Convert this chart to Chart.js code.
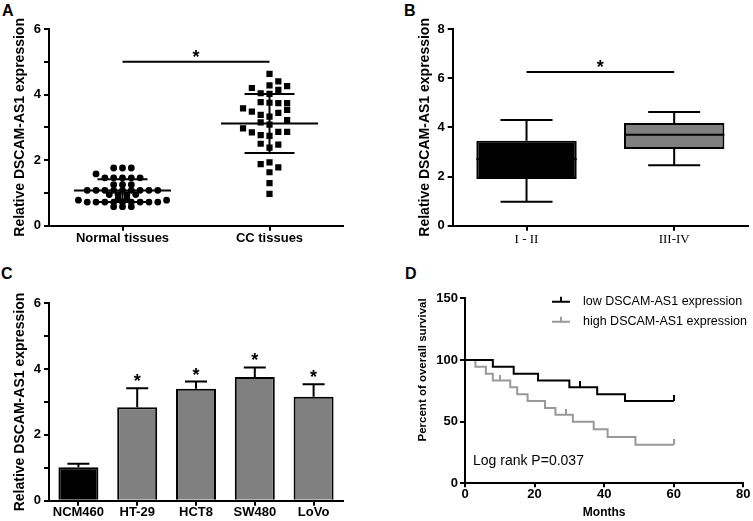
<!DOCTYPE html>
<html>
<head>
<meta charset="utf-8">
<script src="https://cdn.jsdelivr.net/npm/chart.js@4.4.0/dist/chart.umd.min.js"></script>
<style>
body { margin: 0; background: #fff; width: 753px; height: 521px; position: relative; overflow: hidden; font-family: "Liberation Sans", Arial, sans-serif; }
canvas { position: absolute; }
.panel { position: absolute; font-weight: bold; font-size: 16px; line-height: 16px; color: #000; }
</style>
</head>
<body>
<div class="panel" style="left:2px;top:3px">A</div>
<div class="panel" style="left:404px;top:3px">B</div>
<div class="panel" style="left:1px;top:266px">C</div>
<div class="panel" style="left:405px;top:266px">D</div>
<canvas id="chartA" width="370" height="250" style="left:0;top:0"></canvas>
<canvas id="chartB" width="383" height="250" style="left:370px;top:0"></canvas>
<canvas id="chartC" width="370" height="266" style="left:0;top:255px"></canvas>
<canvas id="chartD" width="383" height="266" style="left:370px;top:255px"></canvas>
<script>
// ---- data ----
var yTitle = 'Relative DSCAM-AS1 expression';

// A: dot plot, slot = position in the swarm row
var groupsA = ['Normal tissues', 'CC tissues'];
var normalSlot = [-1, 0, 1, -3, -2, -1, 0, 1, 2, -1, 0, 1, -4, -3, -2, -1, 0, 1, 2, 3, 4,
                  -1.5, -0.5, 0.5, 1.5, -0.5, 0.5, -5, 5, -4, -3, -2, -1, 0, 1, 2, 3, 4, -1, 0, 1];
var normalVal = [1.76, 1.76, 1.76, 1.58, 1.46, 1.46, 1.46, 1.46, 1.46, 1.25, 1.25, 1.25,
                 1.08, 1.08, 1.08, 1.08, 1.08, 1.08, 1.08, 1.08, 1.08,
                 0.95, 0.95, 0.95, 0.95, 0.82, 0.82, 0.78, 0.78,
                 0.72, 0.72, 0.72, 0.72, 0.72, 0.72, 0.72, 0.72, 0.72, 0.58, 0.58, 0.58];
var ccSlot = [0, 1, 0, 2, -2, 1, -1, 0, -1, 0, 1, 2, -3, 2, -2, 1, -1, 0, 2, -1, 0,
              -3, -2, 1, 2, -1, 0, -1, 1, 0, -1, 0, 1, 0, 0, 0];
var ccVal = [4.63, 4.40, 4.28, 4.26, 4.20, 4.14, 4.04, 4.02, 3.77, 3.75, 3.74, 3.74, 3.58, 3.53,
             3.48, 3.44, 3.38, 3.33, 3.22, 3.15, 3.08, 2.97, 2.85, 2.86, 2.86, 2.76, 2.74,
             2.50, 2.47, 2.38, 1.88, 1.93, 1.78, 1.63, 1.30, 0.97];
var meanA = [1.07, 3.12];
var sdA = [0.35, 0.90];

// B: box plot
var stagesB = ['I - II', 'III-IV'];
var minB = [0.97, 2.46];
var q1B = [1.90, 3.12];
var medB = [2.70, 3.70];
var q3B = [3.45, 4.18];
var maxB = [4.30, 4.62];

// C: cell lines
var linesC = ['NCM460', 'HT-29', 'HCT8', 'SW480', 'LoVo'];
var meanC = [1.02, 2.84, 3.40, 3.76, 3.16];
var errC = [0.10, 0.58, 0.22, 0.29, 0.38];
var starC = ['', '*', '*', '*', '*'];

// D: survival
var lowMonths = [0, 8, 14, 21, 30, 38, 46, 60];
var lowSurv = [100, 94.4, 88.9, 83.3, 77.8, 72.2, 66.7, 66.7];
var lowCensMonths = [33, 60];
var lowCensSurv = [77.8, 66.7];
var highMonths = [0, 3, 6, 8, 13, 15, 18, 23, 26, 31, 37, 41, 49, 60];
var highSurv = [100, 94.4, 88.9, 83.3, 77.8, 72.2, 66.7, 61.1, 55.6, 50, 43.8, 37.5, 31.3, 31.3];
var highCensMonths = [10, 29, 60];
var highCensSurv = [83.3, 55.6, 31.3];
var legendD = ['low DSCAM-AS1 expression', 'high DSCAM-AS1 expression'];
var pText = 'Log rank P=0.037';

// ---- helpers ----
Chart.defaults.font.family = '"Liberation Sans", Arial, sans-serif';
Chart.defaults.color = '#000';

var SANS = '"Liberation Sans", Arial, sans-serif';

function yAxis(min, max, step, width, titlePad, minor) {
    return {
        min: min, max: max,
        border: { color: '#000', width: 2 },
        grid: { drawOnChartArea: false, color: '#000', lineWidth: 2, tickLength: 5 },
        ticks: {
            stepSize: step, padding: 3, font: { size: 13, weight: 'bold' },
            callback: function (v) { return minor && v % (step * 2) !== 0 ? '' : v; }
        },
        title: { display: !!titlePad, text: yTitle, font: { size: 14, weight: 'bold' }, padding: { top: titlePad || 0, bottom: 0 } },
        afterFit: function (s) { s.width = width; }
    };
}

function xCat(height, font, padding) {
    return {
        border: { color: '#000', width: 2 },
        grid: { drawOnChartArea: false, offset: false, color: '#000', lineWidth: 2, tickLength: 5 },
        ticks: { font: font, padding: padding, maxRotation: 0 },
        afterFit: function (s) { s.height = height; }
    };
}

function drawStar(ctx, x, yBase) {
    ctx.font = 'bold 18px ' + SANS;
    ctx.textAlign = 'center';
    ctx.textBaseline = 'alphabetic';
    ctx.fillText('*', x, yBase);
}

function sigPlugin(from, to, level) {
    return {
        id: 'sig',
        afterDatasetsDraw: function (chart) {
            var ctx = chart.ctx, x = chart.scales.x, y = chart.scales.y;
            var yy = y.getPixelForValue(level);
            var x1 = x.getPixelForValue(from), x2 = x.getPixelForValue(to);
            ctx.save();
            ctx.strokeStyle = '#000';
            ctx.fillStyle = '#000';
            ctx.lineWidth = 2;
            ctx.beginPath();
            ctx.moveTo(x1, yy);
            ctx.lineTo(x2, yy);
            ctx.stroke();
            drawStar(ctx, (x1 + x2) / 2, yy + 1);
            ctx.restore();
        }
    };
}

var base = {
    responsive: false, animation: false, devicePixelRatio: 1,
    plugins: { legend: { display: false }, tooltip: { enabled: false } }
};
function opts(extra) { return Object.assign({}, base, extra); }

// ---- A ----
var SLOT = 0.06;
var summaryA = [];
groupsA.forEach(function (g, i) {
    var m = meanA[i], s = sdA[i];
    [[i - 0.33, i + 0.33, m, m], [i - 0.17, i + 0.17, m + s, m + s],
     [i - 0.17, i + 0.17, m - s, m - s], [i, i, m - s, m + s]].forEach(function (seg) {
        summaryA.push({
            data: [{ x: seg[0], y: seg[2] }, { x: seg[1], y: seg[3] }],
            showLine: true, borderColor: '#000', borderWidth: 2, pointRadius: 0
        });
    });
});

new Chart(document.getElementById('chartA'), {
    type: 'scatter',
    data: {
        datasets: summaryA.concat([
            { data: normalVal.map(function (v, j) { return { x: normalSlot[j] * SLOT, y: v }; }),
              pointStyle: 'circle', pointRadius: 3.4, backgroundColor: '#000', borderWidth: 0 },
            { data: ccVal.map(function (v, j) { return { x: 1 + ccSlot[j] * SLOT, y: v }; }),
              pointStyle: 'rect', pointRadius: 4.4, backgroundColor: '#000', borderWidth: 0 }
        ])
    },
    options: opts({
        layout: { padding: { top: 29, right: 27, left: 0, bottom: 0 } },
        scales: {
            x: {
                type: 'linear', min: -0.5, max: 1.5,
                border: { color: '#000', width: 2 },
                grid: { drawOnChartArea: false, color: '#000', lineWidth: 2, tickLength: 5 },
                afterBuildTicks: function (a) { a.ticks = groupsA.map(function (g, i) { return { value: i }; }); },
                ticks: { font: { size: 13, weight: 'bold' }, padding: 0, callback: function (v) { return groupsA[v]; } },
                afterFit: function (s) { s.height = 24.3; }
            },
            y: yAxis(0, 6, 1, 49, 12, true)
        }
    }),
    plugins: [sigPlugin(0, 1, 5)]
});

// ---- B ----
new Chart(document.getElementById('chartB'), {
    type: 'bar',
    data: {
        labels: stagesB,
        datasets: [{
            data: q1B.map(function (v, i) { return [v, q3B[i]]; }),
            backgroundColor: ['#000', '#808080'], borderColor: '#000', borderWidth: 2,
            borderSkipped: false, barPercentage: 0.68, categoryPercentage: 1
        }]
    },
    options: opts({
        layout: { padding: { top: 29, right: 5, left: 0, bottom: 0 } },
        scales: {
            x: xCat(24.3, { family: '"Liberation Serif", "Times New Roman", serif', size: 13 }, 1),
            y: yAxis(0, 8, 2, 82.7, 47, false)
        }
    }),
    plugins: [{
        id: 'box',
        afterDatasetsDraw: function (chart) {
            var ctx = chart.ctx, x = chart.scales.x, y = chart.scales.y;
            var bars = chart.getDatasetMeta(0).data;
            ctx.save();
            ctx.strokeStyle = '#000';
            ctx.lineWidth = 2;
            stagesB.forEach(function (s, i) {
                var cx = x.getPixelForValue(i), half = bars[i].width / 2, cap = 26;
                ctx.beginPath();
                ctx.moveTo(cx, y.getPixelForValue(q3B[i])); ctx.lineTo(cx, y.getPixelForValue(maxB[i]));
                ctx.moveTo(cx - cap, y.getPixelForValue(maxB[i])); ctx.lineTo(cx + cap, y.getPixelForValue(maxB[i]));
                ctx.moveTo(cx, y.getPixelForValue(q1B[i])); ctx.lineTo(cx, y.getPixelForValue(minB[i]));
                ctx.moveTo(cx - cap, y.getPixelForValue(minB[i])); ctx.lineTo(cx + cap, y.getPixelForValue(minB[i]));
                ctx.moveTo(cx - half, y.getPixelForValue(medB[i])); ctx.lineTo(cx + half, y.getPixelForValue(medB[i]));
                ctx.stroke();
            });
            ctx.restore();
        }
    }, sigPlugin(0, 1, 6.25)]
});

// ---- C ----
new Chart(document.getElementById('chartC'), {
    type: 'bar',
    data: {
        labels: linesC,
        datasets: [{
            data: meanC,
            backgroundColor: linesC.map(function (c, i) { return i === 0 ? '#000' : '#808080'; }),
            borderColor: '#000', borderWidth: 2, borderSkipped: 'bottom',
            barPercentage: 0.68, categoryPercentage: 1
        }]
    },
    options: opts({
        layout: { padding: { top: 48.3, right: 27, left: 0, bottom: 0 } },
        scales: {
            x: xCat(20.3, { size: 13, weight: 'bold' }, -1),
            y: yAxis(0, 6, 1, 49, 12, true)
        }
    }),
    plugins: [{
        id: 'err',
        afterDatasetsDraw: function (chart) {
            var ctx = chart.ctx, x = chart.scales.x, y = chart.scales.y;
            ctx.save();
            ctx.strokeStyle = '#000';
            ctx.fillStyle = '#000';
            ctx.lineWidth = 2;
            linesC.forEach(function (c, i) {
                var cx = x.getPixelForValue(i);
                var top = y.getPixelForValue(meanC[i] + errC[i]);
                ctx.beginPath();
                ctx.moveTo(cx, y.getPixelForValue(meanC[i]));
                ctx.lineTo(cx, top);
                ctx.moveTo(cx - 11, top);
                ctx.lineTo(cx + 11, top);
                ctx.stroke();
                if (starC[i]) drawStar(ctx, cx, top - 1);
            });
            ctx.restore();
        }
    }]
});

// ---- D ----
function censorMark(color) {
    var c = document.createElement('canvas');
    c.width = 2; c.height = 12;
    var g = c.getContext('2d');
    g.fillStyle = color;
    g.fillRect(0, 0, 2, 6);
    return c;
}
var BLACK = '#000', GREY = '#999';
function pts(xs, ys) { return xs.map(function (v, i) { return { x: v, y: ys[i] }; }); }

new Chart(document.getElementById('chartD'), {
    type: 'scatter',
    data: {
        datasets: [
            { data: pts(lowMonths, lowSurv), showLine: true, stepped: 'before', borderColor: BLACK, borderWidth: 2, pointRadius: 0 },
            { data: pts(highMonths, highSurv), showLine: true, stepped: 'before', borderColor: GREY, borderWidth: 2, pointRadius: 0 },
            { data: pts(lowCensMonths, lowCensSurv), pointStyle: censorMark(BLACK), pointRadius: 6 },
            { data: pts(highCensMonths, highCensSurv), pointStyle: censorMark(GREY), pointRadius: 6 }
        ]
    },
    options: opts({
        layout: { padding: { top: 43.3, right: 9.7, left: 0, bottom: 0 } },
        scales: {
            x: {
                type: 'linear', min: 0, max: 80,
                border: { color: '#000', width: 2 },
                grid: { drawOnChartArea: false, color: '#000', lineWidth: 2, tickLength: 4 },
                ticks: { stepSize: 20, font: { size: 13, weight: 'bold' }, padding: -1 },
                title: { display: true, text: 'Months', font: { size: 12, weight: 'bold' }, padding: { top: 0, bottom: 1 } },
                afterFit: function (s) { s.height = 37.7; }
            },
            y: {
                min: 0, max: 150,
                border: { color: '#000', width: 2 },
                grid: { drawOnChartArea: false, color: '#000', lineWidth: 2, tickLength: 5 },
                ticks: { stepSize: 50, padding: 2, font: { size: 13, weight: 'bold' } },
                title: { display: true, text: 'Percent of overall survival', align: 'end', font: { size: 11.5, weight: 'bold' }, padding: { top: 46, bottom: 0 } },
                afterFit: function (s) { s.width = 95; }
            }
        }
    }),
    plugins: [{
        id: 'kmLegend',
        afterDraw: function (chart) {
            var ctx = chart.ctx, a = chart.chartArea;
            var colors = [BLACK, GREY];
            ctx.save();
            ctx.font = '12.5px ' + SANS;
            ctx.textBaseline = 'middle';
            ctx.textAlign = 'left';
            legendD.forEach(function (t, i) {
                var yy = a.top + 3.5 + i * 20, x0 = a.left + 87;
                ctx.strokeStyle = colors[i];
                ctx.lineWidth = 2;
                ctx.beginPath();
                ctx.moveTo(x0, yy); ctx.lineTo(x0 + 18, yy);
                ctx.moveTo(x0 + 9, yy); ctx.lineTo(x0 + 9, yy - 5);
                ctx.stroke();
                ctx.fillStyle = '#000';
                ctx.fillText(t, x0 + 31, yy);
            });
            ctx.font = '14px ' + SANS;
            ctx.fillText(pText, a.left + 8, a.bottom - 22);
            ctx.restore();
        }
    }]
});
</script>
</body>
</html>
